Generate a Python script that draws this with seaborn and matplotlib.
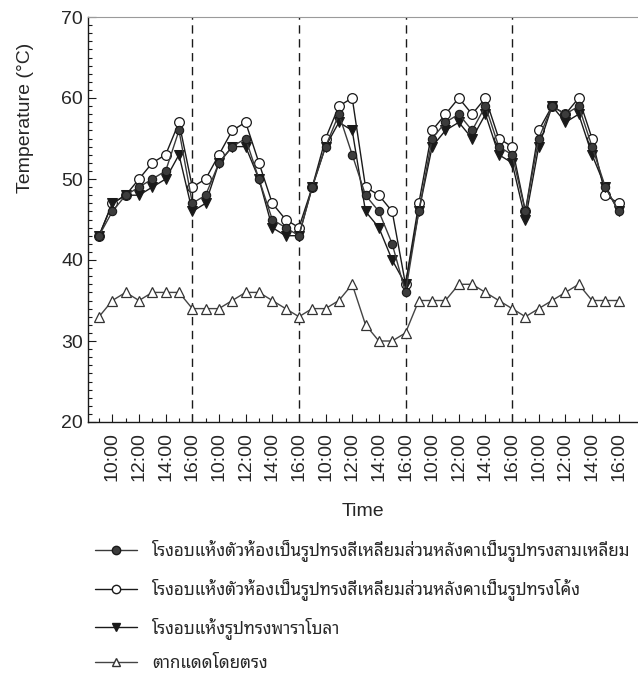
import numpy as np
import pandas as pd
import matplotlib
matplotlib.use("Agg")
import matplotlib.pyplot as plt
from matplotlib import font_manager
from matplotlib.ticker import FixedLocator, MultipleLocator
import seaborn as sns

# Hourly readings 9:00-16:00 over five drying days
hours = ["9:00", "10:00", "11:00", "12:00", "13:00", "14:00", "15:00", "16:00"]
n_days = 5

triangle_roof = [43, 46, 48, 49, 50, 51, 56, 47,
                 48, 52, 54, 55, 50, 45, 44, 43,
                 49, 54, 58, 53, 48, 46, 42, 36,
                 46, 55, 57, 58, 56, 59, 54, 53,
                 46, 55, 59, 58, 59, 54, 49, 46]
curved_roof = [43, 47, 48, 50, 52, 53, 57, 49,
               50, 53, 56, 57, 52, 47, 45, 44,
               49, 55, 59, 60, 49, 48, 46, 37,
               47, 56, 58, 60, 58, 60, 55, 54,
               46, 56, 59, 58, 60, 55, 48, 47]
parabola = [43, 47, 48, 48, 49, 50, 53, 46,
            47, 52, 54, 54, 50, 44, 43, 43,
            49, 54, 57, 56, 46, 44, 40, 37,
            46, 54, 56, 57, 55, 58, 53, 52,
            45, 54, 59, 57, 58, 53, 49, 46]
open_sun = [33, 35, 36, 35, 36, 36, 36, 34,
            34, 34, 35, 36, 36, 35, 34, 33,
            34, 34, 35, 37, 32, 30, 30, 31,
            35, 35, 35, 37, 37, 36, 35, 34,
            33, 34, 35, 36, 37, 35, 35, 35]

names = ["โรงอบแห้งตัวห้องเป็นรูปทรงสี่เหลี่ยมส่วนหลังคาเป็นรูปทรงสามเหลี่ยม",
         "โรงอบแห้งตัวห้องเป็นรูปทรงสี่เหลี่ยมส่วนหลังคาเป็นรูปทรงโค้ง",
         "โรงอบแห้งรูปทรงพาราโบลา",
         "ตากแดดโดยตรง"]


def thai_family():
    """Return an installed font family that has Thai glyphs, if any."""
    try:
        from fontTools.ttLib import TTFont
    except Exception:
        return None
    found = []
    for f in font_manager.fontManager.ttflist:
        try:
            cmap = TTFont(f.fname, fontNumber=0, lazy=True).getBestCmap()
        except Exception:
            continue
        if cmap and 0x0E01 in cmap and 0x0E42 in cmap and 0x0E49 in cmap:
            found.append(f.name)
    if not found:
        return None
    for pref in ("Tahoma", "Arial", "Noto Sans Thai", "Loma", "Garuda",
                 "Sawasdee", "Norasi", "Waree"):
        for name in found:
            if pref.lower() in name.lower():
                return name
    return found[0]


sns.set_style("ticks")
plt.rcParams["font.family"] = ["Liberation Sans", "DejaVu Sans"]
thai = thai_family()
legend_family = [thai, "Liberation Sans", "DejaVu Sans"] if thai else ["DejaVu Sans"]

idx = np.arange(n_days * len(hours))
df = pd.DataFrame({"idx": idx,
                   "triangle": triangle_roof,
                   "curved": curved_roof,
                   "parabola": parabola,
                   "sun": open_sun})

fig = plt.figure(figsize=(6.38, 6.8), dpi=100)
ax = fig.add_axes([88 / 638, 1 - 422 / 680, 550 / 638, 405 / 680])

ink = "#1a1a1a"
sns.lineplot(data=df, x="idx", y="curved", ax=ax, color=ink, lw=1.0,
             marker="o", markersize=7, markerfacecolor="white",
             markeredgecolor=ink, markeredgewidth=0.9, zorder=3)
sns.lineplot(data=df, x="idx", y="parabola", ax=ax, color=ink, lw=1.0,
             marker="v", markersize=7, markerfacecolor=ink,
             markeredgecolor=ink, zorder=4)
sns.lineplot(data=df, x="idx", y="triangle", ax=ax, color="#3a3a3a", lw=1.0,
             marker="o", markersize=6, markerfacecolor="#3c3c3c",
             markeredgecolor=ink, markeredgewidth=0.8, zorder=5)
sns.lineplot(data=df, x="idx", y="sun", ax=ax, color="#444444", lw=1.0,
             marker="^", markersize=7.5, markerfacecolor="white",
             markeredgecolor="#333333", markeredgewidth=0.9, zorder=3)

# day separators at 16:00
for d in range(1, n_days):
    ax.axvline(d * len(hours) - 1, color=ink, lw=1.0, ls=(0, (6, 4)), zorder=1)

ax.set_xlim(-0.83, 40.45)
ax.set_ylim(20, 70)

major_pos = [i for i in idx if hours[i % len(hours)] in ("10:00", "12:00", "14:00", "16:00")]
minor_pos = [i for i in idx if i not in major_pos]
ax.xaxis.set_major_locator(FixedLocator(major_pos))
ax.xaxis.set_minor_locator(FixedLocator(minor_pos))
ax.set_xticklabels([hours[i % len(hours)] for i in major_pos], rotation=90,
                   fontsize=14)
ax.yaxis.set_major_locator(MultipleLocator(10))
ax.yaxis.set_minor_locator(MultipleLocator(1))
ax.tick_params(axis="y", labelsize=14)
ax.tick_params(which="both", direction="in", color=ink, width=0.8)
ax.tick_params(which="major", length=6)
ax.tick_params(which="minor", length=3)
ax.tick_params(axis="x", which="major", pad=7)

ax.set_xlabel("Time", fontsize=14, labelpad=16)
ax.set_ylabel("Temperature (°C)", fontsize=14)
ax.yaxis.set_label_coords(-0.098, 0.75)

for side in ("left", "bottom"):
    ax.spines[side].set_color(ink)
    ax.spines[side].set_linewidth(1.0)
ax.spines["right"].set_visible(False)
ax.spines["top"].set_color("#9a9a9a")
ax.spines["top"].set_linewidth(0.8)
ax.spines["top"].set_linestyle((0, (2, 1)))

handles = [
    plt.Line2D([], [], color="#3a3a3a", lw=1.0, marker="o", markersize=6,
               markerfacecolor="#3c3c3c", markeredgecolor=ink),
    plt.Line2D([], [], color=ink, lw=1.0, marker="o", markersize=6,
               markerfacecolor="white", markeredgecolor=ink),
    plt.Line2D([], [], color=ink, lw=1.0, marker="v", markersize=6,
               markerfacecolor=ink, markeredgecolor=ink),
    plt.Line2D([], [], color="#444444", lw=1.0, marker="^", markersize=6,
               markerfacecolor="white", markeredgecolor="#333333"),
]
ax.legend(handles, names, loc="upper left", bbox_to_anchor=(95 / 638, 1 - 540 / 680),
          bbox_transform=fig.transFigure, frameon=False, handlelength=2.5,
          handletextpad=0.85, labelspacing=0.98, borderpad=0, borderaxespad=0,
          prop={"family": legend_family, "size": 12.2})

fig.savefig("out.png", dpi=100, facecolor="white")
